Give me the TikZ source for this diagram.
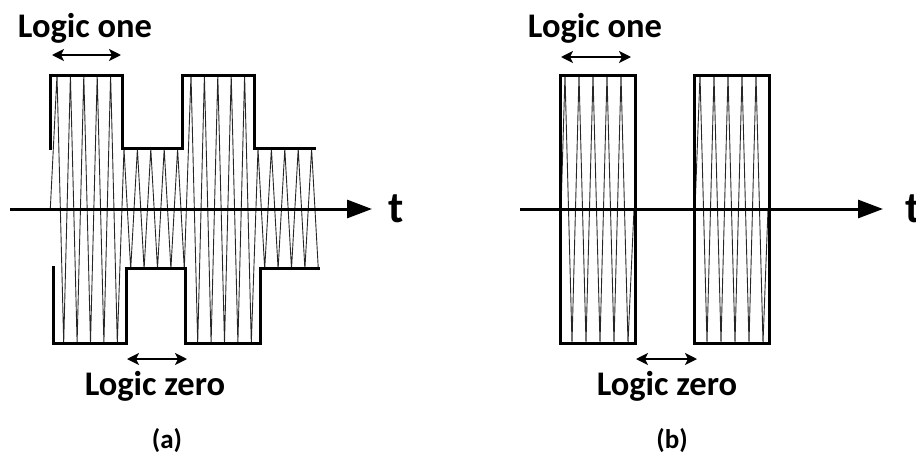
\documentclass[tikz,border=0pt]{standalone}
\usepackage{fontspec}
\setmainfont{Carlito}
\usetikzlibrary{arrows.meta,positioning}

\begin{document}
\begin{tikzpicture}[x=1pt,y=-1pt,
  every node/.style={inner sep=0pt,outer sep=0pt},
  lbl/.style={font=\fontsize{34.5}{38}\selectfont\bfseries,anchor=base},
  caplbl/.style={font=\fontsize{27}{30}\selectfont\bfseries,anchor=base},
  tlbl/.style={font=\fontsize{44}{48}\selectfont\bfseries},
  carrier/.style={line width=0.9pt,black!85},
  env/.style={line width=3pt,line join=miter},
  axis/.style={line width=3pt,-{Triangle[length=25pt,width=18pt]}},
  dbl/.style={line width=1.8pt,{Stealth[length=12pt,width=12pt,inset=3pt]}-{Stealth[length=12pt,width=12pt,inset=3pt]}}
]
\useasboundingbox (0,0) rectangle (916,458);

% (a) amplitude shift keying
\draw[carrier] (50.3,209) \foreach \a [count=\k from 0] in {134,134,134,134,134,60,60,60,60,60,134,134,134,134,134,60,60,60,60,60}
  { -- ({57+13.4*\k},{209-\a}) -- ({63.7+13.4*\k},{209+\a}) };
\draw[env] (50,150) -- (50,75) -- (122,75) -- (122,148) -- (182,148) -- (182,75) -- (254,75) -- (254,148) -- (316,148);
\draw[env] (53,266) -- (53,343) -- (126,343) -- (126,268) -- (185,268) -- (185,343) -- (260,343) -- (260,268) -- (320,268);
\coordinate (axA0) at (10,209);
\coordinate (axA1) at (372,209);
\draw[axis] (axA0) -- (axA1);
\node[tlbl,right=16pt of axA1] (tA) {t};

\node[lbl] (oneA) at (85,37) {Logic one};
\coordinate (oneA0) at (52,55);
\coordinate (oneA1) at (121,55);
\draw[dbl] (oneA0) -- (oneA1);
\node[lbl] (zeroA) at (155,395) {Logic zero};
\coordinate (zeroA0) at (127,359);
\coordinate (zeroA1) at (187,359);
\draw[dbl] (zeroA0) -- (zeroA1);
\node[caplbl] (capA) at (167,448) {(a)};

% (b) on-off keying
\draw[carrier] (561,209) \foreach \k in {0,...,4} { -- ({565+14*\k},75) -- ({572+14*\k},343) } -- (634,209);
\draw[carrier] (695,209) \foreach \k in {0,...,4} { -- ({700+14*\k},75) -- ({707+14*\k},343) } -- (768,209);
\draw[env] (560,75) rectangle (635,343);
\draw[env] (694,75) rectangle (769,343);
\coordinate (axB0) at (520,209);
\coordinate (axB1) at (883,209);
\draw[axis] (axB0) -- (axB1);
\node[tlbl,right=22pt of axB1] (tB) {t};

\node[lbl] (oneB) at (595,37) {Logic one};
\coordinate (oneB0) at (561,57);
\coordinate (oneB1) at (631,57);
\draw[dbl] (oneB0) -- (oneB1);
\node[lbl] (zeroB) at (667,395) {Logic zero};
\coordinate (zeroB0) at (636,359);
\coordinate (zeroB1) at (697,359);
\draw[dbl] (zeroB0) -- (zeroB1);
\node[caplbl] (capB) at (672,448) {(b)};
\end{tikzpicture}
\end{document}
